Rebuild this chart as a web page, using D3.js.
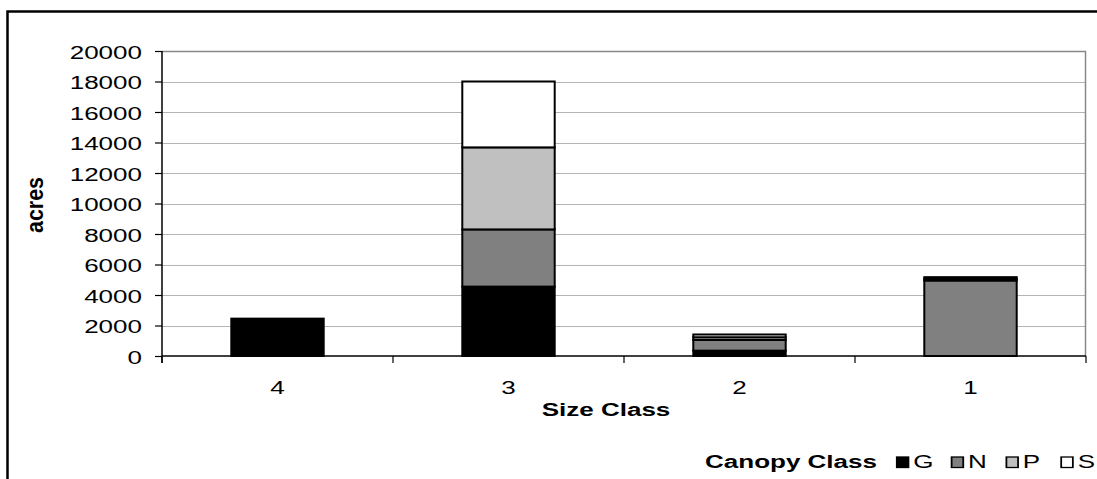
<!DOCTYPE html>
<html>
<head>
<meta charset="utf-8">
<script src="https://cdn.jsdelivr.net/npm/d3@7"></script>
<style>
  html, body { margin: 0; padding: 0; background: #fff; }
  svg { display: block; font-family: Arial, "Liberation Sans", sans-serif; }
</style>
</head>
<body>
<svg id="chart" width="1097" height="479"></svg>
<script>
// Size classes along the x axis
const sizeClasses = ["4", "3", "2", "1"];
// Canopy classes stacked in each bar (bottom to top)
const canopyClasses = ["G", "N", "P", "S"];
// Acres per canopy class, one value per size class
const valuesG = [2450, 4550, 350, 0];
const valuesN = [0, 3750, 700, 4950];
const valuesP = [0, 5380, 180, 120];
const valuesS = [0, 4320, 180, 100];
// Y axis ticks
const yTicks = [0, 2000, 4000, 6000, 8000, 10000, 12000, 14000, 16000, 18000, 20000];
const fills = { G: "#000000", N: "#808080", P: "#c0c0c0", S: "#ffffff" };

const svg = d3.select("#chart");
const SX = 1.37; // horizontal text stretch
const FS = 19;

const plot = { left: 162, right: 1086, top: 51, bottom: 356 };

const x = d3.scaleBand().domain(sizeClasses).range([plot.left, plot.right]).paddingInner(0.6).paddingOuter(0.3);
const xBand = d3.scaleBand().domain(sizeClasses).range([plot.left, plot.right]);
const y = d3.scaleLinear().domain([0, 20000]).range([plot.bottom, plot.top]);

// Outer chart frame
svg.append("rect").attr("x", 7.5).attr("y", 11.5).attr("width", 1200).attr("height", 600)
  .attr("fill", "none").attr("stroke", "#000").attr("stroke-width", 2.5);

// Gridlines
svg.append("g").selectAll("line").data(yTicks.filter(d => d > 0)).join("line")
  .attr("x1", plot.left).attr("x2", plot.right)
  .attr("y1", d => Math.round(y(d)) + 0.5).attr("y2", d => Math.round(y(d)) + 0.5)
  .attr("stroke", "#b4b4b4").attr("stroke-width", 1);

// Plot area border (top and right)
svg.append("path")
  .attr("d", `M${plot.left},${plot.top + 0.5}H${plot.right - 0.5}V${plot.bottom}`)
  .attr("fill", "none").attr("stroke", "#888").attr("stroke-width", 1.5);

// Stacked bars
const table = sizeClasses.map((c, i) => ({ size: c, G: valuesG[i], N: valuesN[i], P: valuesP[i], S: valuesS[i] }));
const series = d3.stack().keys(canopyClasses)(table);
svg.append("g").selectAll("g").data(series).join("g")
  .attr("fill", d => fills[d.key])
  .selectAll("rect").data(d => d.filter(s => s[1] - s[0] > 0)).join("rect")
  .attr("x", d => x(d.data.size))
  .attr("width", x.bandwidth())
  .attr("y", d => y(d[1]))
  .attr("height", d => y(d[0]) - y(d[1]))
  .attr("stroke", "#000").attr("stroke-width", 2);

// Y axis
const yAxis = d3.axisLeft(y).tickValues(yTicks).tickSize(7).tickFormat(d3.format("d"));
const gy = svg.append("g").attr("transform", `translate(${plot.left},0)`).call(yAxis);
gy.select(".domain").attr("d", `M0,${plot.top}V${plot.bottom + 7}`).attr("stroke", "#000").attr("stroke-width", 1.5);
gy.selectAll(".tick line").attr("stroke", "#000").attr("stroke-width", 1.2);
gy.selectAll(".tick text").each(function(d) {
  const t = d3.select(this);
  t.attr("x", null).attr("dy", null).attr("font-size", FS).attr("fill", "#000")
    .attr("text-anchor", "end").attr("font-family", "Arial, 'Liberation Sans', sans-serif")
    .attr("transform", `translate(-20,7) scale(${SX},1)`);
});

// X axis
const xAxis = d3.axisBottom(xBand).tickSize(0).tickSizeOuter(0);
const gx = svg.append("g").attr("transform", `translate(0,${plot.bottom})`).call(xAxis);
gx.select(".domain").attr("d", `M${plot.left},0H${plot.right}`).attr("stroke", "#000").attr("stroke-width", 1.5);
gx.selectAll(".tick text").attr("y", null).attr("dy", null)
  .attr("font-size", FS).attr("fill", "#000").attr("font-family", "Arial, 'Liberation Sans', sans-serif")
  .attr("transform", `translate(0,38) scale(${SX},1)`);
// Category boundary tick marks
svg.append("g").selectAll("line").data(sizeClasses.map(c => xBand(c) + xBand.bandwidth()).concat([plot.left])).join("line")
  .attr("x1", d => d).attr("x2", d => d).attr("y1", plot.bottom).attr("y2", plot.bottom + 7)
  .attr("stroke", "#000").attr("stroke-width", 1.2);

// Axis titles
svg.append("text").text("Size Class")
  .attr("font-size", FS).attr("font-weight", "bold").attr("text-anchor", "middle")
  .attr("transform", `translate(606,416) scale(${SX},1)`);
svg.append("text").text("acres")
  .attr("font-size", FS).attr("font-weight", "bold").attr("text-anchor", "middle")
  .attr("transform", `translate(43,205) rotate(-90) scale(1.13,1.29)`);

// Legend (laid out unstretched, then stretched horizontally as a whole)
const legendBase = 468;
const legend = svg.append("g").attr("transform", `translate(705,${legendBase}) scale(${SX},1)`);
legend.append("text").text("Canopy Class")
  .attr("font-size", FS).attr("font-weight", "bold").attr("x", 0).attr("y", 0);
const legendX = { G: 140, N: 180, P: 220, S: 260 };
canopyClasses.forEach(k => {
  legend.append("rect").attr("x", legendX[k]).attr("y", -11).attr("width", 8.5).attr("height", 10.5)
    .attr("fill", fills[k]).attr("stroke", "#000").attr("stroke-width", 1.3);
  legend.append("text").text(k).attr("font-size", FS)
    .attr("x", legendX[k] + 12).attr("y", 0);
});
</script>
</body>
</html>
